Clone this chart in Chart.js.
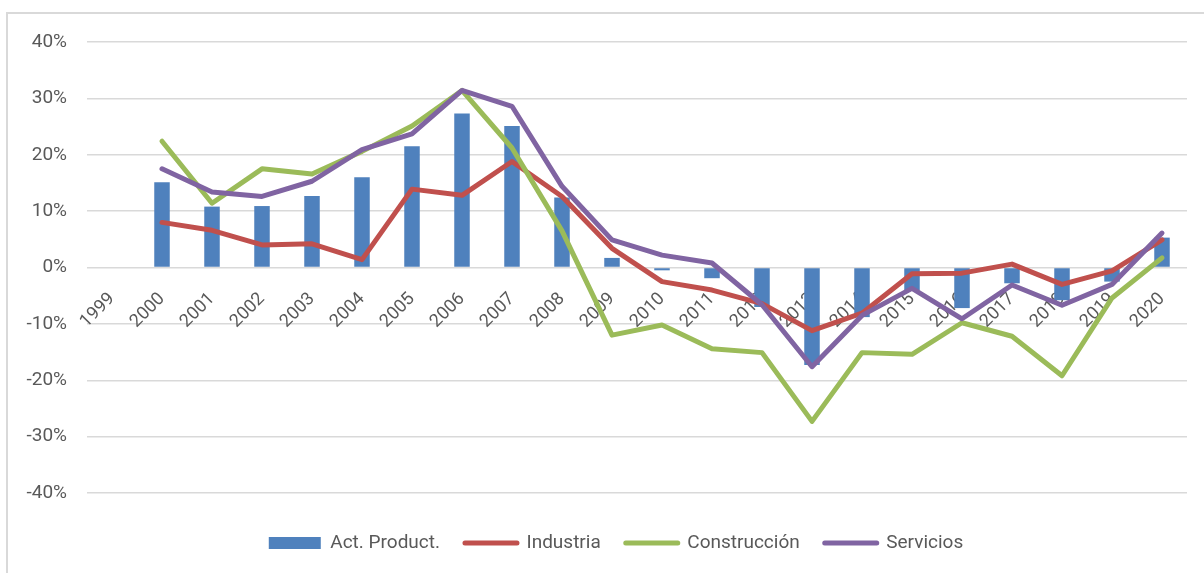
<!DOCTYPE html>
<html>
<head>
<meta charset="utf-8">
<script src="https://cdn.jsdelivr.net/npm/chart.js@4.4.1/dist/chart.umd.min.js"></script>
<style>
  body { margin: 0; background: #fff; }
  #wrap { position: relative; width: 1204px; height: 573px; overflow: hidden; }
  #frame { position: absolute; left: 6px; top: 12px; width: 1300px; height: 700px; border: 2px solid #d9d9d9; }
  #grafico { position: absolute; left: 0; top: 0; }
</style>
</head>
<body>
<div id="wrap">
  <div id="frame"></div>
  <canvas id="grafico" width="1204" height="573"></canvas>
</div>
<script>
// datos (variacion anual, en %)
let anios = ['1999', '2000', '2001', '2002', '2003', '2004', '2005', '2006', '2007', '2008', '2009',
             '2010', '2011', '2012', '2013', '2014', '2015', '2016', '2017', '2018', '2019', '2020'];

let actProduct = [null, 15.1, 10.8, 10.9, 12.7, 16.0, 21.5, 27.3, 25.1, 12.4, 1.7,
                  -0.5, -1.9, -7.0, -17.3, -8.8, -4.0, -7.2, -2.8, -5.8, -2.5, 5.3];
let industria = [null, 8.0, 6.6, 4.0, 4.2, 1.4, 13.9, 12.8, 18.8, 12.6, 3.4,
                 -2.5, -4.0, -6.4, -11.2, -8.1, -1.1, -1.0, 0.6, -3.0, -0.6, 4.9];
let construccion = [null, 22.4, 11.4, 17.5, 16.6, 20.6, 25.1, 31.4, 21.2, 6.5, -12.0,
                    -10.2, -14.4, -15.1, -27.3, -15.1, -15.4, -9.8, -12.2, -19.2, -5.4, 1.7];
let servicios = [null, 17.5, 13.4, 12.6, 15.3, 20.9, 23.7, 31.4, 28.6, 14.4, 4.9,
                 2.2, 0.8, -6.6, -17.6, -8.5, -3.7, -9.1, -3.1, -6.7, -3.0, 6.1];

let ejeMin = -40;
let ejeMax = 40;
let ejePaso = 10;

let fuente = 'Roboto, "Liberation Sans", sans-serif';
let gris = '#595959';

let linea = (label, data, color, orden) => ({
    type: 'line',
    label,
    data,
    borderColor: color,
    backgroundColor: color,
    borderWidth: 5,
    borderCapStyle: 'round',
    borderJoinStyle: 'round',
    pointRadius: 0,
    tension: 0,
    order: orden
});

// mueve la leyenda un poco a la derecha, como en el original
let correrLeyenda = {
    id: 'correrLeyenda',
    afterLayout(chart) {
        chart.legend.left += 45;
    }
};

let ctx = document.getElementById('grafico').getContext('2d');

new Chart(ctx, {
    type: 'bar',
    data: {
        labels: anios,
        datasets: [
            {
                type: 'bar',
                label: 'Act. Product.',
                data: actProduct,
                backgroundColor: '#4f81bd',
                barPercentage: 0.31,
                categoryPercentage: 1,
                order: 4
            },
            linea('Industria', industria, '#c0504d', 3),
            linea('Construcción', construccion, '#9bbb59', 2),
            linea('Servicios', servicios, '#8064a2', 1)
        ]
    },
    plugins: [correrLeyenda],
    options: {
        responsive: false,
        animation: false,
        layout: {
            padding: { left: 0, right: 17, top: 42, bottom: 10.5 }
        },
        plugins: {
            tooltip: { enabled: false },
            legend: {
                position: 'bottom',
                title: {
                    display: true,
                    text: '',
                    font: { size: 10, lineHeight: 1 },
                    padding: { top: 5.5, bottom: 0 }
                },
                labels: {
                    usePointStyle: true,
                    pointStyleWidth: 52,
                    boxHeight: 12,
                    padding: 25,
                    color: gris,
                    font: { family: fuente, size: 19 },
                    // leyenda en el orden original (order cambia el orden por defecto)
                    generateLabels: chart => chart.data.datasets.map((ds, i) => ({
                        text: ds.label,
                        datasetIndex: i,
                        fillStyle: ds.type === 'bar' ? ds.backgroundColor : 'rgba(0,0,0,0)',
                        strokeStyle: ds.borderColor || ds.backgroundColor,
                        lineWidth: ds.type === 'bar' ? 0 : 5,
                        lineCap: 'round',
                        pointStyle: ds.type === 'bar' ? 'rect' : 'line',
                        fontColor: gris,
                        hidden: false
                    }))
                }
            }
        },
        scales: {
            x: {
                position: { y: 0 },
                grid: { display: false, drawTicks: false },
                border: { display: false },
                ticks: {
                    color: gris,
                    font: { family: fuente, size: 18 },
                    minRotation: 45,
                    maxRotation: 45,
                    autoSkip: false,
                    padding: 21
                }
            },
            y: {
                min: ejeMin,
                max: ejeMax,
                afterFit: scale => { scale.width = 87; },
                grid: { color: '#d9d9d9', lineWidth: 1.5, drawTicks: false },
                border: { display: false },
                ticks: {
                    stepSize: ejePaso,
                    padding: 20,
                    color: gris,
                    font: { family: fuente, size: 19 },
                    callback: v => v + '%'
                }
            }
        }
    }
});
</script>
</body>
</html>
